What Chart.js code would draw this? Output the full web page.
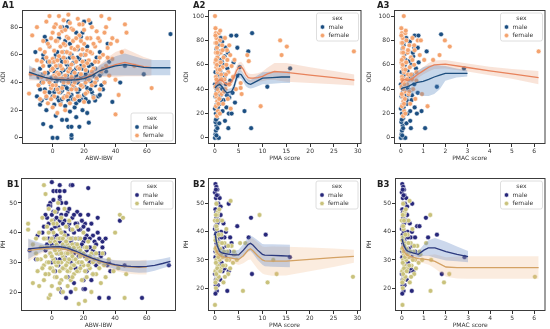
<!DOCTYPE html>
<html>
<head>
<meta charset="utf-8">
<script src="https://cdn.jsdelivr.net/npm/chart.js@4.4.1/dist/chart.umd.min.js"></script>
<style>
  html, body { margin: 0; padding: 0; background: #fff; }
  #wrap { position: relative; width: 550px; height: 329px; overflow: hidden; }
  #wrap canvas { position: absolute; }
</style>
</head>
<body>
<div id="wrap">
  <canvas id="a1" width="183" height="164" style="left:0;top:0"></canvas>
  <canvas id="a2" width="183" height="164" style="left:183px;top:0"></canvas>
  <canvas id="a3" width="184" height="164" style="left:366px;top:0"></canvas>
  <canvas id="b1" width="183" height="165" style="left:0;top:164px"></canvas>
  <canvas id="b2" width="183" height="165" style="left:183px;top:164px"></canvas>
  <canvas id="b3" width="184" height="165" style="left:366px;top:164px"></canvas>
</div>
<script>
// 图例文字
const legendTitle = 'sex';
const sexLabels = ['male', 'female'];

// 刻度
const abwTicks = [0, 20, 40, 60];
const pmaTicks = [0, 5, 10, 15, 20, 25, 30];
const pmacTicks = [0, 1, 2, 3, 4, 5, 6];
const odiTicksA1 = [0, 20, 40, 60, 80];
const odiTicks = [0, 20, 40, 60, 80, 100];
const phTicks = [20, 30, 40, 50];

// A1: ODI vs ABW-IBW
const a1Male = [[-11,62],[-6,60],[-6,57],[-8,50],[-5,73],[-4,70],[-2,66],[6,80],[9,80],[10,84],[20,84],[24,83],[15,76],[19,76],[4,72],[8,70],[11,68],[18,73],[35,68],[30,62],[22,66],[16,64],
  [-9,44],[-7,40],[-5,35],[-3,47],[-2,52],[-1,38],[0,44],[0,55],[1,33],[1,48],[2,60],[2,40],[3,29],[3,51],[4,36],[4,45],[5,57],[5,25],[6,41],[6,34],[7,49],[7,62],[8,30],[8,38],[9,53],[9,45],[10,35],[10,27],[11,42],[11,58],[12,47],[12,31],[13,54],[13,37],[14,44],[14,22],[15,50],[15,40],[16,33],[17,57],[17,46],[18,28],[18,52],[19,38],[20,44],[20,31],[21,55],[22,36],[22,48],[23,26],[24,41],[25,53],[25,33],[26,45],[27,38],[28,58],[29,30],[31,47],[33,40],[36,55],
  [-8,35],[-6,46],[-4,29],[-3,55],[-2,33],[-1,43],[0,30],[0,50],[1,57],[1,24],[2,45],[2,35],[3,42],[3,62],[4,52],[4,27],[5,47],[5,33],[6,55],[6,28],[7,38],[7,44],[8,57],[8,23],[9,36],[9,62],[10,50],[10,42],[11,30],[11,52],[12,39],[12,60],[13,28],[13,48],[14,36],[14,55],[15,45],[15,25],[16,40],[16,58],[17,35],[17,27],[18,44],[19,50],[20,38],[20,60],[21,28],[21,46],[22,42],[23,52],[24,35],[25,40],[26,30],[27,50],[28,42],[30,45],[31,38],[34,48],
  [0,0],[3,0],[12,0],[12,2],[10,8],[12,8],[17,8],[-1,8],[-6,10],[6,13],[9,13],[15,15],[2,16],[11,19],[23,11],[22,18],[19,20],[-4,20],[-8,24],[-7,27],[-10,30],[27,27],[30,31],[32,35],[38,26],[43,40],[46,52],[58,46],[75,75]];
const a1Female = [[-15,32],[-14,46],[-12,49],[-13,74],[-10,56],[-10,80],[-9,38],[-8,64],[-8,28],[-7,44],[-6,70],[-6,52],[-5,33],[-4,84],[-4,58],[-3,42],[-3,25],[-2,88],[-2,66],[-1,49],[-1,36],[0,76],[0,57],[0,22],[1,45],[1,63],[1,30],[2,82],[2,52],[2,38],[3,70],[3,47],[3,18],[4,88],[4,59],[4,33],[5,66],[5,43],[5,24],[6,77],[6,50],[6,36],[7,58],[7,29],[7,85],[8,45],[8,67],[8,20],[9,40],[9,73],[9,55],[10,89],[10,48],[10,32],[11,61],[11,25],[12,79],[12,44],[12,53],[13,38],[13,70],[14,57],[14,47],[14,28],[15,64],[15,35],[16,86],[16,51],[16,42],[17,74],[17,30],[18,60],[18,46],[19,55],[19,37],[19,82],[20,68],[20,26],[21,49],[21,40],[22,63],[22,33],[23,85],[23,56],[24,45],[24,72],[25,38],[25,61],[26,50],[26,29],[27,66],[28,43],[28,77],[29,55],[30,35],[30,70],[31,88],[31,48],[32,60],[33,76],[33,40],[34,52],[35,65],[36,86],[36,45],[37,68],[38,57],[40,42],[40,17],[41,70],[42,31],[44,62],[46,82],[47,76],[52,52],[63,36],
  [-7,55],[-6,40],[-5,62],[-5,47],[-4,30],[-3,68],[-2,40],[-2,55],[-1,72],[-1,28],[0,50],[0,38],[1,80],[1,55],[2,44],[2,70],[3,56],[3,35],[4,75],[4,46],[5,52],[5,80],[6,62],[6,43],[7,68],[7,40],[8,55],[8,78],[9,62],[9,30],[10,72],[10,40],[11,50],[11,83],[12,65],[12,35],[13,58],[13,78],[14,64],[14,40],[15,72],[15,55],[16,66],[16,30],[17,50],[17,82],[18,70],[18,38],[19,64],[20,52],[20,78],[21,60],[21,32],[22,72],[22,54],[23,42],[24,62],[25,80],[25,48],[26,68],[27,55],[27,40],[29,72],[30,58],[32,50],[34,80],[35,58],[38,72]];
const a1MaleFitX = [-15,-10,-5,0,5,10,15,20,25,30,35,40,46,52,58,64,75];
const a1MaleFit  = [47.5,45.5,43.7,42.5,42,41.8,42,42.8,45,48.5,50.5,52,53,52,51,50.7,50.7];
const a1MaleLo   = [42.5,42,41.2,40.5,40,39.8,40,40.5,42.2,44.5,45,45,45,45,45,45.2,45.2];
const a1MaleHi   = [52.5,49,46.2,44.5,44,43.8,44,45.1,47.8,52.5,56,59,61,59,57,56.2,56.2];
const a1FemaleFitX = [-15,-10,-5,0,5,10,15,20,25,30,35,40,46,52,58,63];
const a1FemaleFit  = [46.5,45,43.5,42.5,42.3,42.3,42.5,43.3,45.5,48.5,51,53,54.5,53,51.5,50.8];
const a1FemaleLo   = [41.5,41.5,41,40.5,40.5,40.5,40.5,41,42.5,44,44,44,44.5,44.5,44.5,45];
const a1FemaleHi   = [51.5,48.5,46,44.5,44.1,44.1,44.5,45.6,48.5,53,58,62,64.5,61.5,58.5,56.6];

// A2: ODI vs PMA score
const a2Male = [[0,0],[0.1,3],[0.2,6],[0.3,10],[0.1,13],[0.4,16],[0.6,0],[0.8,0],[0.2,20],[0,24],[0.3,27],[0.5,30],[0.1,34],[0.4,38],[0.2,41],[0,44],[0.6,47],[0.3,50],[0.1,54],[0.5,57],[0.2,61],[0.4,65],[0.7,69],[0.3,73],[0.5,78],[0.4,82],[0.9,12],[1,20],[1.1,28],[1.2,35],[1,42],[1.3,48],[1.1,55],[1.4,63],[1.2,71],[1.5,79],[1.6,22],[1.8,31],[1.7,39],[1.9,52],[1.8,60],[2,67],[2.2,74],[2.4,25],[2.3,44],[2.6,57],[2.8,8],[2.9,20],[3,33],[3.2,47],[3.4,84],[3.5,20],[3.7,37],[3.9,62],[4.2,29],[4.5,84],[4.7,74],[4.7,51],[5.2,58],[6.2,22],[7,71],[7.6,8],[7.8,86],[11,42],[15.8,57],
  [0.3,2],[0.5,8],[0.2,15],[0.6,25],[0.8,35],[0.7,52],[0.9,60],[0.6,76],[0.8,44],[1,64],[1.3,31],[1.5,40],[2.1,14],[2,50],[2.5,35],[2.7,70],[1.2,82]];
const a2Female = [[0,100],[0.1,90],[0.2,86],[0.3,82],[0.1,78],[0.4,74],[0.2,70],[0.5,66],[0.1,62],[0.3,58],[0.6,54],[0.2,50],[0.4,46],[0.1,42],[0.7,38],[0.3,34],[0.5,30],[0.2,26],[0.6,22],[0.4,18],[0.8,86],[0.9,62],[1,80],[1.1,44],[1.2,70],[1.3,52],[1.4,36],[1.5,76],[1.6,58],[1.7,28],[1.8,66],[2,48],[2.1,82],[2.2,40],[2.4,60],[2.5,72],[2.7,32],[2.8,54],[3,44],[3.2,68],[3.3,24],[3.5,59],[3.8,50],[4.1,64],[4.4,40],[5.4,45],[5.4,41],[5.6,36],[6.8,68],[7.1,63],[9.6,26],[14,68],[13.7,80],[15.1,75],[29.2,71],
  [0.1,84],[0.3,78],[0.5,70],[0.2,64],[0.4,60],[0.6,56],[0.3,48],[0.8,44],[0.5,40],[0.2,36],[0.9,32],[0.7,28],[1,56],[1.2,62],[1.1,88],[1.4,48],[1.6,72],[1.9,38],[2.3,52],[2.6,64],[3,76],[1,20]];
const a2MaleFitX = [0,0.5,1,1.5,2,2.5,3,3.5,4,4.5,5,5.5,6,6.5,7,7.5,8,9,10,12,14,15.8];
const a2MaleFit  = [41,43,44,42,39,37,37.5,38,42,49,52.5,52,49,46,44.5,44,45,47,49,49.5,50,50];
const a2MaleLo   = [38,40,41,39,36,34,34.5,35,39,45.5,49,48.5,45.5,42.5,41,40.5,41,42.5,44,44.5,45,45];
const a2MaleHi   = [44,46,47,45,42,40,40.5,41,45,52.5,56,55.5,52.5,49.5,48,47.5,49,51.5,54,54.5,55,55];
const a2FemaleFitX = [0,0.5,1,1.5,2,2.5,3,3.5,4,4.5,5,5.5,6,6.5,7,7.5,8,9,10,11,12.5,15,20,25,29.3];
const a2FemaleFit  = [44,46,48,47,45,44,44.5,46,50,55,58,58.5,56,52,49.5,49,49,49.5,50.5,52.5,54.5,53.8,51.5,49.5,47.5];
const a2FemaleLo   = [41,43,45,44,42,41,41.5,43,46.5,51,54,54.5,52,48.5,46,45.5,45.5,46,46.5,47.5,47.5,46,45,44,43];
const a2FemaleHi   = [47,49,51,50,48,47,47.5,49,53.5,59,62,62.5,60,55.5,53,52.5,52.5,53,54.5,57.5,61.5,61.5,58,55,52];

// A3: ODI vs PMAC score
const a3Male = [[0,0],[0.03,3],[0.05,6],[0.08,10],[0.02,13],[0.1,16],[0.15,0],[0.2,0],[0.05,20],[0,24],[0.08,27],[0.12,30],[0.03,34],[0.1,38],[0.05,41],[0,44],[0.15,47],[0.08,50],[0.03,54],[0.12,57],[0.05,61],[0.1,65],[0.18,69],[0.08,73],[0.12,78],[0.1,82],[0.25,12],[0.3,20],[0.28,28],[0.32,35],[0.3,42],[0.35,48],[0.3,55],[0.38,63],[0.33,71],[0.4,79],[0.42,22],[0.48,31],[0.45,39],[0.5,52],[0.48,60],[0.55,67],[0.6,74],[0.62,84],[0.79,84],[0.45,8],[0.62,25],[0.6,44],[0.68,57],[0.72,20],[0.76,37],[0.8,62],[0.76,74],[0.93,22],[1.09,8],[1.16,71],[1.62,42],[1.81,85],[2.84,57],
  [0.06,2],[0.1,8],[0.04,15],[0.12,25],[0.16,35],[0.14,52],[0.18,60],[0.12,76],[0.16,44],[0.2,64],[0.26,31],[0.3,40],[0.42,14],[0.4,50],[0.5,35],[0.54,70],[0.24,82]];
const a3Female = [[0.13,100],[0.02,90],[0.05,86],[0.08,82],[0.03,78],[0.1,74],[0.05,70],[0.12,66],[0.03,62],[0.08,58],[0.15,54],[0.05,50],[0.1,46],[0.03,42],[0.18,38],[0.08,34],[0.12,30],[0.05,26],[0.15,22],[0.1,18],[0.2,86],[0.22,62],[0.25,80],[0.28,44],[0.3,70],[0.32,52],[0.35,36],[0.38,76],[0.4,58],[0.42,28],[0.45,66],[0.5,48],[0.52,82],[0.55,40],[0.6,60],[0.62,72],[0.65,32],[0.7,54],[0.7,47],[0.76,80],[0.9,80],[0.85,68],[0.95,36],[1.05,64],[1.2,26],[1.45,64],[1.74,68],[1.98,80],[2.2,75],[6.2,71],
  [0.02,84],[0.06,78],[0.1,70],[0.04,64],[0.08,60],[0.12,56],[0.06,48],[0.16,44],[0.1,40],[0.04,36],[0.18,32],[0.14,28],[0.2,56],[0.24,62],[0.22,88],[0.28,48],[0.32,72],[0.38,38],[0.46,52],[0.52,64],[0.6,76],[0.2,20]];
const a3MaleFitX = [0,0.1,0.2,0.3,0.5,0.75,1,1.25,1.5,1.75,2,2.5,3];
const a3MaleFit  = [40,41,41.5,42,44,45.5,46.5,48,50,51.5,53,53,53];
const a3MaleLo   = [38,38.5,38.5,38,37,35.5,34.5,34.5,36,40,47,49.5,50.5];
const a3MaleHi   = [42,43.5,44.5,46,51,55,58,59.5,60,59.5,59,57,55.5];
const a3FemaleFitX = [0,0.1,0.2,0.3,0.5,0.75,1,1.25,1.5,2,3,4,5,6.2];
const a3FemaleFit  = [45,47.5,48,47,48.5,52,55,58,60,60.5,57.8,55,52.5,49.5];
const a3FemaleLo   = [42,44.5,45,44,45.5,49,52,54.5,56.5,57,54.5,51.5,48.5,44];
const a3FemaleHi   = [48,50.5,51,50,51.5,55,58,61.5,63.5,64,61,58.5,56.5,55];

// B1: PH vs ABW-IBW
const b1Male = [[0,57],[5,56],[12,56],[13,56],[23,55],[1,54],[3,54],[5,54],[8,54],[-1,50],[5,51],[9,50],[5,52],[-1,49],[1,47],[3,47],[-2,43],[-6,40],[-9,39],[-14,34],[-4,34],[-10,31],[16,43],[18,41],[21,43],[23,41],[26,39],[32,37],[32,35],[33,33],[27,33],[31,32],[36,30],[37,27],[26,26],[20,24],[14,23],[10,25],[5,21],[2,27],[9,18],[6,20],[12,20],[20,21],[21,21],[25,24],[30,18],[43,44],[29,45],[36,18],[57,18],[74,29],[46,29],
  [-3,45],[-2,38],[0,41],[0,36],[1,44],[2,39],[2,31],[3,35],[4,42],[4,29],[5,37],[6,46],[6,33],[7,40],[7,28],[8,44],[8,36],[9,31],[10,47],[10,39],[11,34],[11,43],[12,30],[12,37],[13,45],[14,33],[14,40],[15,28],[15,36],[16,47],[17,32],[17,38],[18,35],[19,29],[19,44],[20,37],[21,32],[22,39],[22,27],[24,35],[24,30],[25,43],[27,37],[28,29],[29,40],[30,33],[34,38],[35,29],
  [-5,42],[-4,46],[-3,36],[-2,49],[-1,33],[0,46],[0,30],[1,38],[1,51],[2,42],[2,35],[3,45],[3,39],[4,33],[4,48],[5,44],[5,31],[6,38],[6,50],[7,35],[7,43],[8,40],[8,32],[9,46],[9,37],[10,33],[10,42],[11,38],[11,48],[12,41],[13,34],[13,38],[14,46],[15,43],[16,35],[17,41],[18,30],[18,46],[19,36],[20,42],[21,38],[22,34],[23,46],[24,38],[26,34],[28,36],[30,38]];
const b1Female = [[-5,56],[-4,53],[-15,43],[-15,41],[-12,23],[-5,29],[17,16],[21,17],[-2,18],[-1,19],[43,46],[45,45],[40,40],[46,18],[47,26],[39,27],[42,28],
  [-12,36],[-10,33],[-9,27],[-8,40],[-8,22],[-7,31],[-6,45],[-6,35],[-5,24],[-4,38],[-3,30],[-3,42],[-2,26],[-2,48],[-1,33],[-1,37],[0,28],[0,44],[0,22],[1,35],[1,40],[1,31],[2,25],[2,47],[2,37],[3,29],[3,43],[3,33],[4,21],[4,38],[4,50],[5,27],[5,34],[5,41],[6,30],[6,24],[6,45],[7,36],[7,32],[7,20],[8,39],[8,28],[8,48],[9,33],[9,25],[9,42],[10,30],[10,36],[10,22],[11,38],[11,27],[11,44],[12,33],[12,24],[13,36],[13,29],[13,41],[14,26],[14,31],[15,38],[15,34],[15,21],[16,30],[16,42],[17,27],[17,35],[18,32],[18,38],[19,24],[19,33],[20,29],[20,40],[21,35],[22,31],[22,25],[23,37],[24,28],[25,33],[25,20],[26,30],[27,35],[28,26],[29,31],[30,28],[31,23],[32,33],[33,29],[34,25],[36,31],
  [-10,38],[-9,31],[-7,35],[-6,28],[-5,38],[-4,32],[-4,26],[-3,35],[-2,30],[-2,40],[-1,28],[0,32],[0,38],[1,27],[1,43],[2,30],[2,34],[3,36],[3,25],[4,30],[4,35],[5,38],[5,23],[6,33],[6,40],[7,28],[7,38],[8,31],[8,35],[9,29],[9,37],[10,27],[10,33],[11,31],[11,35],[12,28],[12,38],[13,32],[13,25],[14,35],[14,29],[15,31],[16,27],[16,36],[17,30],[18,28],[18,34],[19,30],[20,33],[21,27],[22,35],[23,29],[24,32],[26,26],[27,31],[28,33],[30,30]];
const b1MaleFitX = [-15,-10,-5,0,5,10,15,20,25,30,35,40,45,50,55,60,65,70,75];
const b1MaleFit  = [34.5,34.8,35,35.2,35.3,34.8,33.8,32.6,31.5,30.6,29.8,29.2,28.8,28.6,28.5,28.6,29,29.6,30.3];
const b1MaleLo   = [31,32.6,33.8,34.3,34.5,34,33,31.7,30.5,29.5,28.5,27.7,27.1,26.7,26.5,26.6,27.2,28,28.8];
const b1MaleHi   = [38,37,36.2,36.1,36.1,35.6,34.6,33.5,32.5,31.7,31.1,30.7,30.5,30.5,30.5,30.6,30.8,31.2,31.8];
const b1FemaleFitX = [-15,-10,-5,0,5,10,15,20,25,30,35,40,45,50,55,60];
const b1FemaleFit  = [34,34.3,34.6,34.8,34.7,34.2,33.3,32.2,31.2,30.3,29.6,29,28.6,28.4,28.3,28.4];
const b1FemaleLo   = [30.2,32,33.4,33.9,33.9,33.4,32.5,31.3,30.2,29.1,28.1,27.2,26.5,26.1,25.9,25.9];
const b1FemaleHi   = [37.8,36.6,35.8,35.7,35.5,35,34.1,33.1,32.2,31.5,31.1,30.8,30.7,30.7,30.7,30.9];

// B2: PH vs PMA score
const b2Male = [[0.1,57],[0.3,56],[0.5,55],[0,54],[0.6,53],[0.2,52],[0.4,50],[0.1,48],[0.7,47],[0.3,45],[0.5,43],[0,41],[0.2,39],[0.6,37],[0.4,35],[0.1,33],[0.8,31],[0.3,29],[0.5,27],[0,25],[0.2,23],[0.6,21],[0.4,19],[0.1,18],[1,52],[1.2,46],[1.3,40],[1.1,36],[1.5,33],[1.4,29],[1.6,26],[1.8,43],[2,38],[2.2,31],[2.4,35],[2.6,19],[2.9,26],[2.9,50],[3.2,38],[3.5,36],[4,32],[4.7,42],[7.1,38],[7.6,45],[7.8,25],[10.7,39],[15.8,31],
  [0.2,55],[0.4,53],[0.7,50],[0.3,47],[0.9,44],[0.2,42],[0.5,40],[0.8,38],[0.3,36],[0.6,34],[0.1,31],[0.9,28],[0.4,26],[0.7,24],[0.2,21],[1.2,49],[1.4,38],[1.6,34],[2,27],[2.3,40],[1.1,23],[3,33]];
const b2Female = [[0,14],[0.2,20],[0.4,23],[0.1,26],[0.6,28],[0.3,30],[0.5,32],[0.1,34],[0.7,36],[0.2,38],[0.4,41],[0,44],[0.6,47],[0.3,50],[0.5,46],[0.8,24],[1,30],[1.1,34],[1.2,27],[1.3,39],[1.5,44],[1.6,31],[1.8,22],[2,36],[2.2,28],[2.4,41],[2.6,33],[2.8,25],[3,30],[3.3,51],[3.5,35],[3.8,29],[4.2,32],[4.6,30],[5.3,36],[5.9,19],[6.4,36],[9.4,46],[11.1,22],[12.3,30],[13,25],[29.1,24],
  [0.1,22],[0.3,25],[0.5,27],[0.2,29],[0.7,31],[0.4,33],[0.6,35],[0.1,37],[0.8,39],[0.3,42],[0.5,44],[0.2,46],[0.9,48],[1.1,26],[1.3,32],[1.5,36],[1.7,28],[1.9,33],[2.1,24],[2.5,30],[2.8,35],[3.2,27],[4,33]];
const b2MaleFitX = [0,0.25,0.5,1,1.5,2,3,4,5,6,7,7.5,8,9,10,10.5,12,14,15.8];
const b2MaleFit  = [40,37,35,33,32.5,32.3,32,31.8,31.8,33.5,35.5,35.9,35.3,33.5,32,31.7,31.6,31.5,31.4];
const b2MaleLo   = [37.5,35,33.5,31.8,31.3,31,30.7,30.3,30,31.3,33,33.2,32.3,30,28.3,27.8,27.6,27.5,27.4];
const b2MaleHi   = [42.5,39,36.5,34.2,33.7,33.6,33.3,33.3,33.6,35.7,38,38.6,38.3,37,35.7,35.6,35.6,35.5,35.4];
const b2FemaleFitX = [0,0.25,0.5,1,1.5,2,3,4,5,6,7,7.5,8,9,10,10.5,12,15,20,25,29.3];
const b2FemaleFit  = [35,33.5,32.5,31.5,31.2,31,30.8,30.5,30.2,31.5,33.5,34,33.3,31.5,30,29.7,29.6,29.6,30.2,30.8,31.3];
const b2FemaleLo   = [33,31.8,31,30.3,30,29.8,29.4,28.8,28.2,28.8,30,30.2,29,26.8,25.2,24.8,24.4,24.5,26,27.5,29];
const b2FemaleHi   = [37,35.2,34,32.7,32.4,32.2,32.2,32.2,32.2,34.2,37,37.8,37.6,36.2,34.8,34.6,34.8,34.7,34.4,34.1,33.6];

// B3: PH vs PMAC score
const b3Male = [[0.02,57],[0.06,56],[0.1,55],[0,54],[0.12,53],[0.04,52],[0.08,50],[0.02,48],[0.14,47],[0.06,45],[0.1,43],[0,41],[0.04,39],[0.12,37],[0.08,35],[0.02,33],[0.16,31],[0.06,29],[0.1,27],[0,25],[0.04,23],[0.12,21],[0.08,19],[0.02,18],[0.2,52],[0.24,46],[0.26,40],[0.22,36],[0.3,33],[0.28,29],[0.32,26],[0.36,43],[0.4,38],[0.44,31],[0.48,35],[0.45,19],[0.52,26],[0.47,50],[0.6,38],[0.69,42],[0.8,42],[0.8,32],[1.09,45],[1.19,38],[1.59,39],[1.81,25],[2.84,31],
  [0.04,55],[0.08,53],[0.14,50],[0.06,47],[0.18,44],[0.04,42],[0.1,40],[0.16,38],[0.06,36],[0.12,34],[0.02,31],[0.18,28],[0.08,26],[0.14,24],[0.04,21],[0.24,49],[0.28,38],[0.32,34],[0.4,27],[0.46,40],[0.22,23],[0.6,33]];
const b3Female = [[0.03,14],[0.04,20],[0.08,23],[0.02,26],[0.12,28],[0.06,30],[0.1,32],[0.02,34],[0.14,36],[0.04,38],[0.08,41],[0,44],[0.12,47],[0.06,50],[0.1,46],[0.16,24],[0.2,30],[0.22,34],[0.24,27],[0.26,39],[0.3,44],[0.32,31],[0.36,22],[0.4,36],[0.44,28],[0.48,41],[0.52,33],[0.56,25],[0.6,30],[0.35,51],[0.7,35],[0.76,29],[0.84,32],[0.92,30],[1.1,36],[1.3,19],[1.33,30],[1.29,46],[1.91,22],[2.15,25],[6.03,24],
  [0.02,22],[0.06,25],[0.1,27],[0.04,29],[0.14,31],[0.08,33],[0.12,35],[0.02,37],[0.16,39],[0.06,42],[0.1,44],[0.04,46],[0.18,48],[0.22,26],[0.26,32],[0.3,36],[0.34,28],[0.38,33],[0.42,24],[0.5,30],[0.56,35],[0.64,27],[0.8,33]];
const b3MaleFitX = [0,0.1,0.2,0.3,0.5,0.75,1,1.2,1.5,2,2.5,3];
const b3MaleFit  = [37.5,35,33.5,33,32.5,32,33.5,34.3,34.3,33,32,31.2];
const b3MaleLo   = [35,33.2,32.3,32,31.5,30.8,31.5,31.5,30.8,29.8,29.5,29.2];
const b3MaleHi   = [40,36.8,34.7,34,33.5,33.2,35.5,37,37.8,36.5,34.8,33.2];
const b3FemaleFitX = [0,0.1,0.2,0.3,0.5,0.75,1,1.25,1.5,2,2.5,3,4,5,6.2];
const b3FemaleFit  = [35,33,32,31.5,31,30.5,30.3,30,29.5,27.5,27.3,27.3,27.3,27.3,27.3];
const b3FemaleLo   = [33,31.5,30.8,30.3,29.8,29.2,28.8,28.2,27,24,23.4,23.3,23.3,23.3,23.3];
const b3FemaleHi   = [37,34.5,33.2,32.7,32.2,31.8,31.8,31.8,32,31,31.2,31.3,31.3,31.3,31.3];

// 配色
const palA = { male: '#1c4f82', female: '#f4a36e', maleLine: '#1d4e7e', femaleLine: '#e8835c',
  maleBand: 'rgba(80,130,190,0.32)', femaleBand: 'rgba(230,150,110,0.26)' };
const palB = { male: '#27277a', female: '#c9c27c', maleLine: '#2c3a7e', femaleLine: '#d4a264',
  maleBand: 'rgba(95,135,195,0.32)', femaleBand: 'rgba(240,175,120,0.24)' };

const FONT = '"DejaVu Sans", sans-serif';

// 回归线 + 置信带
function fitSets(xs, ys, lo, hi, lineColor, bandColor) {
  const pts = arr => xs.map((x, i) => ({ x: x, y: arr[i] }));
  return [
    { type: 'line', data: pts(ys), borderColor: lineColor, borderWidth: 1.3, pointRadius: 0, fill: false, order: 0 },
    { type: 'line', data: pts(hi), borderColor: 'transparent', borderWidth: 0, pointRadius: 0, fill: false, order: 2 },
    { type: 'line', data: pts(lo), borderColor: 'transparent', borderWidth: 0, pointRadius: 0, fill: '-1', backgroundColor: bandColor, order: 2 }
  ];
}

function scatterSet(pairs, color, order) {
  return {
    type: 'scatter',
    data: pairs.map(p => ({ x: p[0], y: p[1] })),
    backgroundColor: color,
    borderColor: '#ffffff',
    borderWidth: 0.5,
    pointRadius: 2.4,
    order: order
  };
}

// 画框、图例和面板编号
const decor = {
  id: 'decor',
  afterDatasetsDraw(chart, args, o) {
    const ctx = chart.ctx;
    const a = chart.chartArea;
    ctx.save();
    ctx.strokeStyle = '#3c3c3c';
    ctx.lineWidth = 1;
    ctx.strokeRect(a.left + 0.5, a.top + 0.5, a.right - a.left - 1, a.bottom - a.top - 1);

    // legend
    const w = 42, h = 28;
    const x = a.right - w - 3;
    const y = o.corner === 'br' ? a.bottom - h - 3 : a.top + 3;
    ctx.beginPath();
    ctx.roundRect(x, y, w, h, 2);
    ctx.fillStyle = 'rgba(255,255,255,0.85)';
    ctx.fill();
    ctx.strokeStyle = '#d6d6d6';
    ctx.lineWidth = 0.8;
    ctx.stroke();
    ctx.fillStyle = '#333';
    ctx.font = '6px ' + FONT;
    ctx.textBaseline = 'middle';
    ctx.textAlign = 'center';
    ctx.fillText(legendTitle, x + w / 2, y + 5);
    ctx.textAlign = 'left';
    const cols = [o.pal.male, o.pal.female];
    sexLabels.forEach((lab, i) => {
      const cy = y + 14 + i * 8.5;
      ctx.beginPath();
      ctx.arc(x + 6, cy, 2.2, 0, Math.PI * 2);
      ctx.fillStyle = cols[i];
      ctx.fill();
      ctx.strokeStyle = '#fff';
      ctx.lineWidth = 0.5;
      ctx.stroke();
      ctx.fillStyle = '#333';
      ctx.fillText(lab, x + 12, cy);
    });

    // panel label
    ctx.fillStyle = '#222';
    ctx.font = 'bold 8.5px ' + FONT;
    ctx.textAlign = 'left';
    ctx.fillText(o.label, o.labelX, o.labelY);
    ctx.restore();
  }
};

function makePanel(p) {
  const pal = p.pal;
  const datasets = []
    .concat(fitSets(p.mFit[0], p.mFit[1], p.mFit[2], p.mFit[3], pal.maleLine, pal.maleBand))
    .concat(fitSets(p.fFit[0], p.fFit[1], p.fFit[2], p.fFit[3], pal.femaleLine, pal.femaleBand))
    .concat([scatterSet(p.female, pal.female, 4), scatterSet(p.male, pal.male, 5)]);
  const tickFont = { family: FONT, size: 6 };
  const fixTicks = vals => (s => { s.ticks = vals.map(v => ({ value: v })); });
  new Chart(document.getElementById(p.id), {
    type: 'scatter',
    data: { datasets: datasets },
    plugins: [decor],
    options: {
      responsive: false,
      animation: false,
      devicePixelRatio: 1,
      layout: { padding: { left: 0, top: p.top, right: p.right, bottom: 0 } },
      plugins: {
        legend: { display: false },
        tooltip: { enabled: false },
        decor: { corner: p.corner, pal: pal, label: p.label, labelX: p.labelX, labelY: p.labelY }
      },
      scales: {
        x: {
          type: 'linear', min: p.xr[0], max: p.xr[1],
          afterBuildTicks: fixTicks(p.xTicks),
          afterFit: s => { s.height = p.xH; },
          ticks: { font: tickFont, color: '#333', padding: 1, maxRotation: 0, autoSkip: false },
          grid: { display: true, drawOnChartArea: false, drawTicks: true, tickLength: 3, color: '#333' },
          border: { display: false },
          title: { display: true, text: p.xTitle, font: { family: FONT, size: 6 }, color: '#333', padding: { top: 0, bottom: p.xPad } }
        },
        y: {
          type: 'linear', min: p.yr[0], max: p.yr[1],
          afterBuildTicks: fixTicks(p.yTicks),
          afterFit: s => { s.width = p.yW; },
          ticks: { font: tickFont, color: '#333', padding: 1, autoSkip: false },
          grid: { display: true, drawOnChartArea: false, drawTicks: true, tickLength: 3, color: '#333' },
          border: { display: false },
          title: { display: true, text: p.yTitle, font: { family: FONT, size: 6 }, color: '#333', padding: { top: 0, bottom: 0 } }
        }
      }
    }
  });
}

const panels = [
  { id: 'a1', label: 'A1', labelX: 2, labelY: 6, xTitle: 'ABW-IBW', yTitle: 'ODI', xr: [-19.5, 78.5], yr: [-4.4, 92.4],
    xTicks: abwTicks, yTicks: odiTicksA1, male: a1Male, female: a1Female,
    mFit: [a1MaleFitX, a1MaleFit, a1MaleLo, a1MaleHi], fFit: [a1FemaleFitX, a1FemaleFit, a1FemaleLo, a1FemaleHi],
    pal: palA, corner: 'br', top: 10, right: 7, yW: 22, xH: 20, xPad: 2.4 },
  { id: 'a2', label: 'A2', labelX: 10, labelY: 6, xTitle: 'PMA score', yTitle: 'ODI', xr: [-1.47, 30.8], yr: [-5, 105],
    xTicks: pmaTicks, yTicks: odiTicks, male: a2Male, female: a2Female,
    mFit: [a2MaleFitX, a2MaleFit, a2MaleLo, a2MaleHi], fFit: [a2FemaleFitX, a2FemaleFit, a2FemaleLo, a2FemaleHi],
    pal: palA, corner: 'tr', top: 10, right: 4, yW: 25, xH: 20, xPad: 2.4 },
  { id: 'a3', label: 'A3', labelX: 11, labelY: 6, xTitle: 'PMAC score', yTitle: 'ODI', xr: [-0.31, 6.51], yr: [-5, 105],
    xTicks: pmacTicks, yTicks: odiTicks, male: a3Male, female: a3Female,
    mFit: [a3MaleFitX, a3MaleFit, a3MaleLo, a3MaleHi], fFit: [a3FemaleFitX, a3FemaleFit, a3FemaleLo, a3FemaleHi],
    pal: palA, corner: 'tr', top: 10, right: 3, yW: 28, xH: 20, xPad: 2.4 },
  { id: 'b1', label: 'B1', labelX: 7, labelY: 21, xTitle: 'ABW-IBW', yTitle: 'PH', xr: [-19.5, 78.5], yr: [13.6, 58.4],
    xTicks: abwTicks, yTicks: phTicks, male: b1Male, female: b1Female,
    mFit: [b1MaleFitX, b1MaleFit, b1MaleLo, b1MaleHi], fFit: [b1FemaleFitX, b1FemaleFit, b1FemaleLo, b1FemaleHi],
    pal: palB, corner: 'tr', top: 14, right: 7, yW: 21, xH: 18, xPad: 0.4 },
  { id: 'b2', label: 'B2', labelX: 10, labelY: 21, xTitle: 'PMA score', yTitle: 'PH', xr: [-1.47, 30.8], yr: [11.85, 59.15],
    xTicks: pmaTicks, yTicks: phTicks, male: b2Male, female: b2Female,
    mFit: [b2MaleFitX, b2MaleFit, b2MaleLo, b2MaleHi], fFit: [b2FemaleFitX, b2FemaleFit, b2FemaleLo, b2FemaleHi],
    pal: palB, corner: 'tr', top: 14, right: 5, yW: 25, xH: 18, xPad: 0.4 },
  { id: 'b3', label: 'B3', labelX: 11, labelY: 21, xTitle: 'PMAC score', yTitle: 'PH', xr: [-0.31, 6.51], yr: [11.85, 59.15],
    xTicks: pmacTicks, yTicks: phTicks, male: b3Male, female: b3Female,
    mFit: [b3MaleFitX, b3MaleFit, b3MaleLo, b3MaleHi], fFit: [b3FemaleFitX, b3FemaleFit, b3FemaleLo, b3FemaleHi],
    pal: palB, corner: 'tr', top: 14, right: 3, yW: 29, xH: 18, xPad: 0.4 }
];

panels.forEach(makePanel);
</script>
</body>
</html>
